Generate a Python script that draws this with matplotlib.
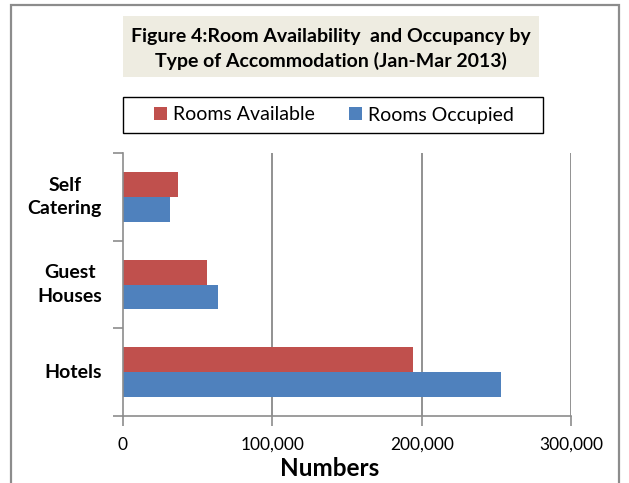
import matplotlib.pyplot as plt
from matplotlib.patches import Rectangle
from matplotlib.ticker import FuncFormatter
import numpy as np

categories = ['Hotels', 'Guest\nHouses', 'Self\nCatering']
rooms_available = [194500, 56500, 36600]
rooms_occupied = [253000, 63900, 31500]
x_ticks = [0, 100000, 200000, 300000]

RED = '#C0504D'
BLUE = '#4F81BD'
FONT = 'Lato'

W, H = 629, 483
fig = plt.figure(figsize=(W / 100, H / 100), dpi=100)
fig.patch.set_facecolor('white')

# outer chart frame
fig.patches.append(Rectangle((11 / W, -0.05), 608 / W, (H - 5) / H + 0.05,
                             transform=fig.transFigure, fill=False,
                             edgecolor='#8c8c8c', linewidth=1.6))

ax = fig.add_axes([123 / W, (H - 416) / H, 448 / W, 263 / H])

y = np.arange(len(categories))
h = 0.285
ax.barh(y + h / 2, rooms_available, height=h, color=RED, label='Rooms Available')
ax.barh(y - h / 2, rooms_occupied, height=h, color=BLUE, label='Rooms Occupied')

ax.set_xlim(0, 300000)
ax.set_ylim(-0.5, len(categories) - 0.5)
ax.set_xticks(x_ticks)
ax.xaxis.set_major_formatter(FuncFormatter(lambda v, p: f'{int(v):,}'))
ax.set_yticks(np.arange(-0.5, len(categories), 1.0))
ax.set_yticklabels([])
for yi, c in zip(y, categories):
    ax.text(-21 / 448, yi, c, transform=ax.get_yaxis_transform(), ha='right', va='center',
            multialignment='center', fontsize=14, fontweight='bold', family=FONT,
            linespacing=1.45)

for v in x_ticks[1:]:
    ax.axvline(v, color='#7f7f7f', linewidth=1.2, zorder=0)

for s in ['top', 'right']:
    ax.spines[s].set_visible(False)
for s in ['left', 'bottom']:
    ax.spines[s].set_color('#8c8c8c')
    ax.spines[s].set_linewidth(1.2)
ax.tick_params(axis='both', direction='out', length=7, color='#8c8c8c', width=1.2)
ax.tick_params(axis='x', labelsize=12.5, pad=8)
for lbl in ax.get_xticklabels():
    lbl.set_family(FONT)
fig.text(330 / W, 1 - 469 / H, 'Numbers', ha='center', va='center',
         fontsize=17.5, fontweight='bold', family=FONT)

# title box
fig.patches.append(Rectangle((123 / W, (H - 77) / H), 416 / W, 61 / H,
                             transform=fig.transFigure, facecolor='#EEECE1', edgecolor='none'))
fig.text(331 / W, 1 - 49 / H,
         'Figure 4:Room Availability  and Occupancy by\nType of Accommodation (Jan-Mar 2013)',
         ha='center', va='center', fontsize=14, fontweight='bold', family=FONT, linespacing=1.4)

# legend box
fig.patches.append(Rectangle((123 / W, (H - 133) / H), 420 / W, 36 / H,
                             transform=fig.transFigure, facecolor='white',
                             edgecolor='black', linewidth=1.0))
fig.legend(loc='center', bbox_to_anchor=(334 / W, 1 - 115 / H), ncol=2,
           prop={'family': FONT, 'size': 14}, frameon=False,
           handlelength=0.67, handleheight=0.67, handletextpad=0.3,
           columnspacing=1.75, borderpad=0, borderaxespad=0)

fig.savefig('out.png', dpi=100)
